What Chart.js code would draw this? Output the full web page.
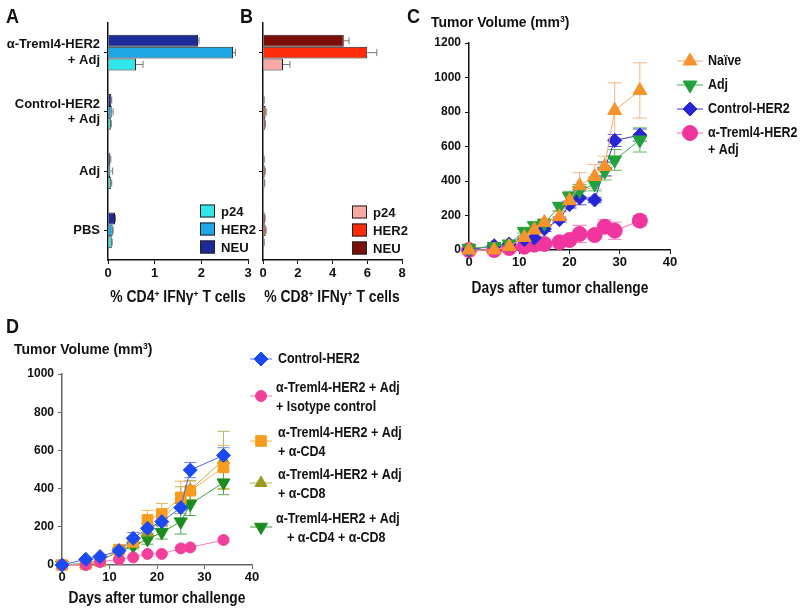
<!DOCTYPE html>
<html>
<head>
<meta charset="utf-8">
<script src="https://cdn.jsdelivr.net/npm/chart.js@4.4.1/dist/chart.umd.min.js"></script>
<style>
body { margin: 0; background: #fff; }
#wrap { position: relative; width: 800px; height: 611px; overflow: hidden;
  font-family: 'Liberation Sans', Arial, sans-serif; font-weight: bold; color: #111; }
canvas { position: absolute; left: 0; top: 0; }
.t { position: absolute; white-space: nowrap; line-height: 1; transform-origin: 0 50%; transform: scaleX(0.9); }
.c { transform-origin: 50% 50%; transform: translateX(-50%) scaleX(0.87); }
.d { transform-origin: 50% 50%; transform: translateX(-50%) scaleX(0.81); }
sup { font-size: 62%; vertical-align: 0.55em; line-height: 0; }
</style>
</head>
<body>
<div id="wrap">
  <canvas id="chartA" width="800" height="611"></canvas>
  <canvas id="chartB" width="800" height="611"></canvas>
  <canvas id="chartC" width="800" height="611"></canvas>
  <canvas id="chartD" width="800" height="611"></canvas>

  <div class="t" style="left:6px;top:6px;font-size:20px">A</div>
  <div class="t" style="left:240px;top:6px;font-size:20px">B</div>
  <div class="t" style="left:407px;top:6px;font-size:20px">C</div>
  <div class="t" style="left:6px;top:316px;font-size:20px">D</div>

  <div class="t" style="left:431px;top:14px;font-size:15.5px">Tumor Volume (mm<sup>3</sup>)</div>
  <div class="t" style="left:14px;top:341px;font-size:15.5px">Tumor Volume (mm<sup>3</sup>)</div>

  <div class="t c" style="left:178px;top:289px;font-size:16px">% CD4<sup>+</sup> IFNγ<sup>+</sup> T cells</div>
  <div class="t c" style="left:332px;top:289px;font-size:16px">% CD8<sup>+</sup> IFNγ<sup>+</sup> T cells</div>
  <div class="t d" style="left:560px;top:279px;font-size:17px">Days after tumor challenge</div>
  <div class="t d" style="left:157px;top:589px;font-size:17px">Days after tumor challenge</div>
</div>

<script>
// ---- data ----
const groupLabels = [['α-Treml4-HER2', '+ Adj'], ['Control-HER2', '+ Adj'], 'Adj', 'PBS'];
const antigenNames = ['p24', 'HER2', 'NEU'];

// panel A: % CD4+ IFNg+ T cells
const cd4Neu = [1.93, 0.07, 0.05, 0.15];
const cd4Her2 = [2.68, 0.08, 0.05, 0.10];
const cd4P24 = [0.60, 0.06, 0.06, 0.08];
const cd4NeuErr = [0.02, 0.01, 0.01, 0.01];
const cd4Her2Err = [0.05, 0.03, 0.05, 0.01];
const cd4P24Err = [0.15, 0.01, 0.02, 0.01];

// panel B: % CD8+ IFNg+ T cells
const cd8Neu = [4.65, 0.05, 0.05, 0.10];
const cd8Her2 = [6.00, 0.15, 0.10, 0.15];
const cd8P24 = [1.15, 0.12, 0.08, 0.05];
const cd8NeuErr = [0.30, 0.02, 0.02, 0.02];
const cd8Her2Err = [0.55, 0.03, 0.03, 0.03];
const cd8P24Err = [0.40, 0.02, 0.02, 0.02];

// panel C: tumour volume
const daysC = [0, 5, 8, 11, 13, 15, 18, 20, 22, 25, 27, 29, 34];
const namesC = ['Naïve', 'Adj', 'Control-HER2', ['α-Treml4-HER2', '+ Adj']];
const naiveC = [0, 0, 20, 73, 116, 160, 193, 286, 373, 426, 484, 809, 925];
const naiveErrC = [5, 5, 5, 10, 15, 20, 30, 40, 75, 70, 60, 160, 160];
const adjC = [10, 20, 35, 108, 141, 155, 252, 310, 344, 383, 456, 522, 638];
const adjErrC = [5, 5, 5, 10, 15, 15, 25, 30, 35, 40, 50, 60, 70];
const controlC = [0, 25, 35, 60, 70, 122, 176, 263, 302, 290, 470, 635, 666];
const controlErrC = [5, 5, 5, 10, 10, 15, 15, 20, 40, 15, 40, 35, 35];
const tremlC = [0, 0, 12, 19, 31, 35, 45, 58, 93, 87, 135, 112, 170];
const tremlErrC = [5, 5, 5, 5, 10, 10, 10, 10, 50, 20, 40, 50, 30];

// panel D: tumour volume with depletion
const daysD = [0, 5, 8, 12, 15, 18, 21, 25, 27, 34];
const namesD = ['Control-HER2',
  ['α-Treml4-HER2 + Adj', '+ Isotype control'],
  ['α-Treml4-HER2 + Adj', '+ α-CD4'],
  ['α-Treml4-HER2 + Adj', '+ α-CD8'],
  ['α-Treml4-HER2 + Adj', '+ α-CD4 + α-CD8']];
const controlD = [0, 30, 44, 75, 140, 192, 227, 300, 497, 574];
const controlErrD = [3, 5, 5, 10, 30, 25, 20, 30, 40, 40];
const isotypeD = [0, 0, 16, 30, 40, 58, 58, 87, 92, 131];
const isotypeErrD = [0, 0, 3, 5, 5, 5, 5, 5, 5, 10];
const cd4D = [0, 5, 20, 80, 122, 236, 267, 354, 389, 511];
const cd4ErrD = [0, 3, 5, 10, 15, 50, 55, 85, 50, 115];
const cd8D = [0, 5, 20, 75, 110, 170, 240, 340, 393, 550];
const cd8ErrD = [0, 3, 5, 10, 15, 40, 40, 70, 50, 150];
const cd4cd8D = [0, 9, 23, 70, 99, 134, 171, 227, 319, 431];
const cd4cd8ErrD = [0, 3, 5, 10, 15, 25, 35, 65, 60, 63];

// ---- helpers ----
const FONT = "'Liberation Sans', Arial, sans-serif";
Chart.defaults.font.family = FONT;
Chart.defaults.font.weight = 'bold';
Chart.defaults.color = '#111';

// text squeezed horizontally, the source figure uses a narrow face
function narrowText(ctx, txt, x, y, sx) {
    ctx.save();
    ctx.translate(x, y);
    ctx.scale(sx, 1);
    ctx.fillText(txt, 0, 0);
    ctx.restore();
}

function errorBars(errs, colors, cap) {
    return {
        id: 'errorBars',
        beforeDatasetsDraw(chart) {
            const ctx = chart.ctx;
            const horizontal = chart.options.indexAxis === 'y';
            ctx.save();
            ctx.lineWidth = 1;
            chart.data.datasets.forEach((ds, i) => {
                const err = errs[i];
                if (!err) return;
                ctx.strokeStyle = colors[i];
                chart.getDatasetMeta(i).data.forEach((el, j) => {
                    const e = err[j];
                    if (!e) return;
                    ctx.beginPath();
                    if (horizontal) {
                        const xs = chart.scales.x;
                        const xe = xs.getPixelForValue(ds.data[j] + e);
                        const h = el.height * 0.3;
                        ctx.moveTo(el.x, el.y); ctx.lineTo(xe, el.y);
                        ctx.moveTo(xe, el.y - h); ctx.lineTo(xe, el.y + h);
                    } else {
                        const ys = chart.scales.y;
                        const v = ds.data[j].y;
                        const top = ys.getPixelForValue(v + e);
                        const bot = ys.getPixelForValue(Math.max(v - e, 0));
                        ctx.moveTo(el.x, top); ctx.lineTo(el.x, bot);
                        ctx.moveTo(el.x - cap, top); ctx.lineTo(el.x + cap, top);
                        ctx.moveTo(el.x - cap, bot); ctx.lineTo(el.x + cap, bot);
                    }
                    ctx.stroke();
                });
            });
            ctx.restore();
        }
    };
}

function boxLegend(items) {
    return {
        id: 'boxLegend',
        afterDraw(chart) {
            const ctx = chart.ctx;
            ctx.save();
            ctx.font = 'bold 13.5px ' + FONT;
            ctx.textBaseline = 'middle';
            items.forEach(it => {
                const ds = chart.data.datasets[it.index];
                ctx.fillStyle = ds.backgroundColor;
                ctx.fillRect(it.x, it.y - 6.5, 15, 13);
                ctx.strokeStyle = '#222';
                ctx.lineWidth = 1;
                ctx.strokeRect(it.x + 0.5, it.y - 6, 14, 12);
                ctx.fillStyle = '#111';
                narrowText(ctx, ds.label, it.x + 21, it.y + 1, 0.97);
            });
            ctx.restore();
        }
    };
}

function lineLegend(items, names, half) {
    return {
        id: 'lineLegend',
        afterDraw(chart) {
            const ctx = chart.ctx;
            ctx.save();
            items.forEach(it => {
                const ds = chart.data.datasets[it.index];
                ctx.strokeStyle = ds.borderColor;
                ctx.lineWidth = 1;
                ctx.beginPath();
                ctx.moveTo(it.x - half, it.y); ctx.lineTo(it.x + half, it.y);
                ctx.stroke();
                ctx.fillStyle = ds.pointBackgroundColor;
                ctx.strokeStyle = ds.pointBackgroundColor;
                Chart.helpers.drawPoint(ctx, {
                    pointStyle: ds.pointStyle, rotation: ds.pointRotation || 0,
                    radius: ds.pointRadius, borderWidth: 1
                }, it.x, it.y);
                ctx.fillStyle = '#111';
                ctx.font = 'bold 14.5px ' + FONT;
                ctx.textBaseline = 'middle';
                const lines = [].concat(names[it.index]);
                lines.forEach((txt, k) => narrowText(ctx, txt, it.tx[k], it.ty[k], 0.86));
            });
            ctx.restore();
        }
    };
}

function barDataset(label, data, color) {
    return { label: label, data: data, backgroundColor: color, borderColor: '#222', borderWidth: 1,
        categoryPercentage: 0.6, barPercentage: 1 };
}

function lineDataset(label, days, values, color, lineColor, style, radius, rotation) {
    return {
        label: [].concat(label).join(' '),
        data: days.map((d, i) => ({ x: d, y: values[i] })),
        showLine: true, borderColor: lineColor, borderWidth: 1,
        pointStyle: style, pointRadius: radius, pointRotation: rotation || 0,
        pointBackgroundColor: color, pointBorderColor: color, pointBorderWidth: 1,
        clip: false
    };
}

const axisColor = '#111';
const plainNumber = (v) => String(v);

// ---- panel A ----
new Chart(document.getElementById('chartA').getContext('2d'), {
    type: 'bar',
    data: {
        labels: groupLabels,
        datasets: [
            barDataset(antigenNames[2], cd4Neu, '#1C2B98'),
            barDataset(antigenNames[1], cd4Her2, '#1FA6E4'),
            barDataset(antigenNames[0], cd4P24, '#31E6E8'),
        ],
    },
    options: {
        indexAxis: 'y',
        responsive: false,
        animation: false,
        layout: { padding: { left: 0, top: 23, right: 552, bottom: 321 } },
        plugins: { legend: { display: false }, tooltip: { enabled: false } },
        scales: {
            x: {
                min: 0, max: 3,
                ticks: { stepSize: 1, font: { size: 13, weight: 'bold' }, color: '#111', padding: 2 },
                grid: { display: true, drawOnChartArea: false, tickLength: 4, color: axisColor },
                border: { color: axisColor, width: 1.5 },
                afterFit: (scale) => { scale.height = 30; },
            },
            y: {
                ticks: { font: { size: 13, weight: 'bold' }, color: '#111', padding: 4 },
                grid: { display: true, offset: false, drawOnChartArea: false, tickLength: 4, color: axisColor },
                border: { color: axisColor, width: 1.5 },
                afterFit: (scale) => { scale.width = 108; },
            },
        },
    },
    plugins: [
        errorBars([cd4NeuErr, cd4Her2Err, cd4P24Err], ['#777', '#777', '#777'], 0),
        boxLegend([{ index: 2, x: 200, y: 211 }, { index: 1, x: 200, y: 229 }, { index: 0, x: 200, y: 247 }]),
    ],
});

// ---- panel B ----
new Chart(document.getElementById('chartB').getContext('2d'), {
    type: 'bar',
    data: {
        labels: groupLabels,
        datasets: [
            barDataset(antigenNames[2], cd8Neu, '#7B0F07'),
            barDataset(antigenNames[1], cd8Her2, '#FF2B0B'),
            barDataset(antigenNames[0], cd8P24, '#F7A9A6'),
        ],
    },
    options: {
        indexAxis: 'y',
        responsive: false,
        animation: false,
        layout: { padding: { left: 253, top: 23, right: 398, bottom: 321 } },
        plugins: { legend: { display: false }, tooltip: { enabled: false } },
        scales: {
            x: {
                min: 0, max: 8,
                ticks: { stepSize: 2, font: { size: 13, weight: 'bold' }, color: '#111', padding: 2 },
                grid: { display: true, drawOnChartArea: false, tickLength: 4, color: axisColor },
                border: { color: axisColor, width: 1.5 },
                afterFit: (scale) => { scale.height = 30; },
            },
            y: {
                ticks: { display: false },
                grid: { display: true, offset: false, drawOnChartArea: false, tickLength: 4, color: axisColor },
                border: { color: axisColor, width: 1.5 },
                afterFit: (scale) => { scale.width = 10; },
            },
        },
    },
    plugins: [
        errorBars([cd8NeuErr, cd8Her2Err, cd8P24Err], ['#777', '#777', '#777'], 0),
        boxLegend([{ index: 2, x: 352, y: 212 }, { index: 1, x: 352, y: 230 }, { index: 0, x: 352, y: 248 }]),
    ],
});

// ---- panel C ----
new Chart(document.getElementById('chartC').getContext('2d'), {
    type: 'scatter',
    data: {
        datasets: [
            lineDataset(namesC[0], daysC, naiveC, '#F7922D', '#F6A86C', 'triangle', 8),
            lineDataset(namesC[1], daysC, adjC, '#22A23A', '#45AD4A', 'triangle', 8, 180),
            lineDataset(namesC[2], daysC, controlC, '#2626D6', '#3535CF', 'rectRot', 7),
            lineDataset(namesC[3], daysC, tremlC, '#F0369E', '#F066B0', 'circle', 7.5),
        ],
    },
    options: {
        responsive: false,
        animation: false,
        layout: { padding: { left: 419, top: 43, right: 130, bottom: 336 } },
        plugins: { legend: { display: false }, tooltip: { enabled: false } },
        scales: {
            x: {
                type: 'linear', min: 0, max: 40,
                ticks: { stepSize: 10, font: { size: 13, weight: 'bold' }, color: '#111', padding: 1, callback: plainNumber },
                grid: { display: true, drawOnChartArea: false, tickLength: 4, color: axisColor },
                border: { color: axisColor, width: 1.5 },
                afterFit: (scale) => { scale.height = 25; },
            },
            y: {
                min: 0, max: 1200,
                ticks: { stepSize: 200, font: { size: 12, weight: 'bold' }, color: '#111', padding: 4, callback: plainNumber },
                grid: { display: true, drawOnChartArea: false, tickLength: 4, color: axisColor },
                border: { color: axisColor, width: 1.5 },
                afterFit: (scale) => { scale.width = 50; },
            },
        },
    },
    plugins: [
        errorBars([naiveErrC, adjErrC, controlErrC, tremlErrC], ['#F7B584', '#5DB862', '#5555D8', '#F37DBB'], 7),
        lineLegend([
            { index: 0, x: 690, y: 61, tx: [708], ty: [61] },
            { index: 1, x: 690, y: 85, tx: [708], ty: [85] },
            { index: 2, x: 690, y: 109, tx: [708], ty: [109] },
            { index: 3, x: 690, y: 133, tx: [708, 708], ty: [133, 150] },
        ], namesC, 13),
    ],
});

// ---- panel D ----
new Chart(document.getElementById('chartD').getContext('2d'), {
    type: 'scatter',
    data: {
        datasets: [
            lineDataset(namesD[0], daysD, controlD, '#1B49F2', '#4466EE', 'rectRot', 7),
            lineDataset(namesD[1], daysD, isotypeD, '#F0409B', '#F27CB8', 'circle', 5.5),
            lineDataset(namesD[2], daysD, cd4D, '#F89B1E', '#F6B050', 'rect', 7.5),
            lineDataset(namesD[3], daysD, cd8D, '#9C9A22', '#B0AE50', 'triangle', 7),
            lineDataset(namesD[4], daysD, cd4cd8D, '#1B8C1E', '#3A9E3A', 'triangle', 7.5, 180),
        ],
    },
    options: {
        responsive: false,
        animation: false,
        layout: { padding: { left: 12, top: 374, right: 548, bottom: 21 } },
        plugins: { legend: { display: false }, tooltip: { enabled: false } },
        scales: {
            x: {
                type: 'linear', min: 0, max: 40,
                ticks: { stepSize: 10, font: { size: 13, weight: 'bold' }, color: '#111', padding: 1, callback: plainNumber },
                grid: { display: true, drawOnChartArea: false, tickLength: 4, color: '#666' },
                border: { color: '#666', width: 1.5 },
                afterFit: (scale) => { scale.height = 25; },
            },
            y: {
                min: 0, max: 1000,
                ticks: { stepSize: 200, font: { size: 12, weight: 'bold' }, color: '#111', padding: 4, callback: plainNumber },
                grid: { display: true, drawOnChartArea: false, tickLength: 4, color: '#666' },
                border: { color: '#666', width: 1.5 },
                afterFit: (scale) => { scale.width = 50; },
            },
        },
    },
    plugins: [
        errorBars([controlErrD, isotypeErrD, cd4ErrD, cd8ErrD, cd4cd8ErrD], ['#6680F0', '#F27CB8', '#F2B25A', '#B8B55A', '#55A955'], 6),
        lineLegend([
            { index: 0, x: 261, y: 359, tx: [278], ty: [359] },
            { index: 1, x: 261, y: 396, tx: [276, 276], ty: [388, 407] },
            { index: 2, x: 261, y: 441, tx: [278, 278], ty: [433, 452] },
            { index: 3, x: 261, y: 483, tx: [278, 278], ty: [475, 494] },
            { index: 4, x: 261, y: 527, tx: [276, 287], ty: [519, 538] },
        ], namesD, 11),
    ],
});
</script>
</body>
</html>
